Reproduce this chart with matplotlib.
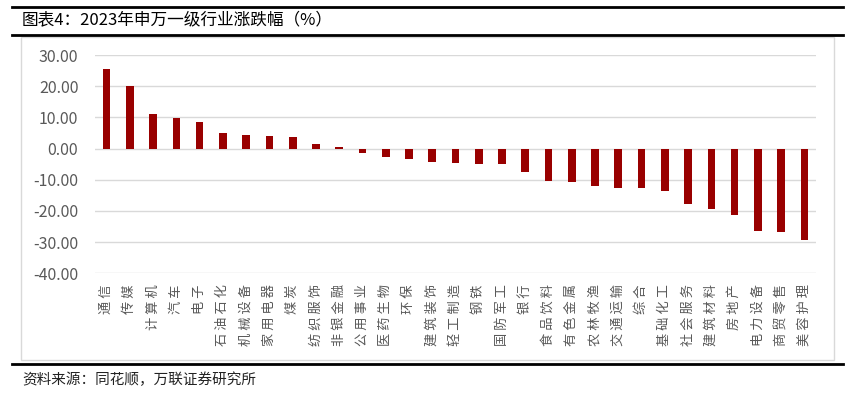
import matplotlib.pyplot as plt
import numpy as np
from matplotlib.lines import Line2D
from matplotlib.patches import Rectangle

plt.rcParams['font.family'] = ['Noto Sans CJK SC', 'DejaVu Sans']

industries = ['通信', '传媒', '计算机', '汽车', '电子', '石油石化', '机械设备', '家用电器',
              '煤炭', '纺织服饰', '非银金融', '公用事业', '医药生物', '环保', '建筑装饰',
              '轻工制造', '钢铁', '国防军工', '银行', '食品饮料', '有色金属', '农林牧渔',
              '交通运输', '综合', '基础化工', '社会服务', '建筑材料', '房地产', '电力设备',
              '商贸零售', '美容护理']
changes = [25.5, 20.0, 11.0, 9.7, 8.5, 5.1, 4.5, 4.0, 3.6, 1.6, 0.5, -1.3, -2.6, -3.4,
           -4.2, -4.5, -4.8, -5.1, -7.6, -10.5, -10.8, -12.0, -12.5, -12.7, -13.5,
           -17.9, -19.5, -21.4, -26.5, -26.8, -29.2]
yticks = [30, 20, 10, 0, -10, -20, -30, -40]

W, H = 851, 396
fig = plt.figure(figsize=(W / 100, H / 100), dpi=100)

def fx(px):
    return px / W

def fy(py):
    return 1 - py / H

# frame lines and chart box
for y in [7, 34.5, 364]:
    fig.add_artist(Line2D([fx(12), fx(843)], [fy(y), fy(y)], color='black', lw=2.0))
fig.add_artist(Rectangle((fx(21), fy(360)), fx(834) - fx(21), fy(37) - fy(360),
                         fill=False, edgecolor='#d9d9d9', lw=1.0))

fig.text(fx(22), fy(21), '图表4：2023年申万一级行业涨跌幅（%）', fontsize=12,
         va='center', ha='left', color='black')
fig.text(fx(22), fy(380), '资料来源：同花顺，万联证券研究所', fontsize=10.5,
         va='center', ha='left', color='#222222', style='italic')

ax = fig.add_axes([fx(95), fy(273.3), fx(816) - fx(95), fy(55) - fy(273.3)])
x = np.arange(len(industries))
ax.bar(x, changes, width=0.33, color='#990000', zorder=3)
ax.set_xlim(-0.5, len(industries) - 0.5)
ax.set_ylim(-40, 30)
ax.set_yticks(yticks)
ax.set_yticklabels(['%.2f' % v for v in yticks], fontsize=11.5, color='#595959')
ax.yaxis.grid(True, color='#d9d9d9', lw=1.0, zorder=0)
ax.set_xticks(x)
ax.set_xticklabels([' '.join(s) for s in industries], rotation=90, fontsize=9.5,
                   color='#595959', va='top')
ax.tick_params(axis='both', length=0)
ax.tick_params(axis='x', pad=8)
ax.tick_params(axis='y', pad=12)
for s in ax.spines.values():
    s.set_visible(False)

fig.savefig('out.png', dpi=100)
